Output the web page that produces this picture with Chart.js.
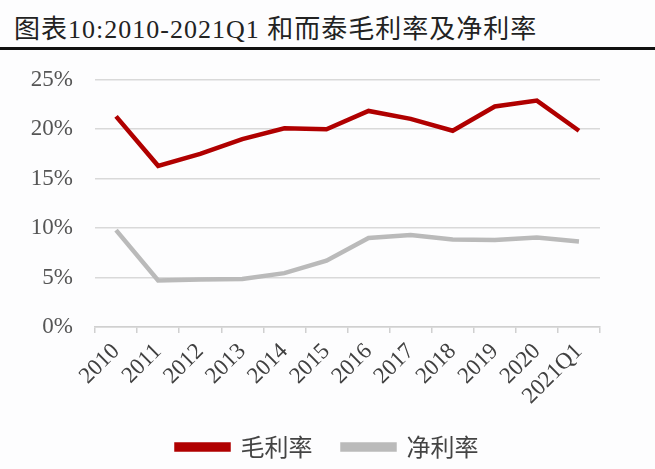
<!DOCTYPE html>
<html>
<head>
<meta charset="utf-8">
<script src="https://cdn.jsdelivr.net/npm/chart.js@4"></script>
<style>
html,body{margin:0;padding:0;background:#fdfdfe;width:655px;height:469px;overflow:hidden;}
#title{position:absolute;left:14px;top:8px;font-family:"Liberation Serif","Noto Sans CJK SC",serif;font-size:26px;color:#222;white-space:nowrap;letter-spacing:1px;}
#rule{position:absolute;left:0;top:47px;width:655px;height:3px;background:#111;}
#wrap{position:absolute;left:0;top:44px;width:655px;height:425px;}
</style>
</head>
<body>
<div id="title">图表10:2010-2021Q1 和而泰毛利率及净利率</div>
<div id="rule"></div>
<div id="wrap"><canvas id="c"></canvas></div>
<script>
const categories = ["2010","2011","2012","2013","2014","2015","2016","2017","2018","2019","2020","2021Q1"];
const grossMargin = [21.3,16.3,17.5,19.0,20.1,20.0,21.85,21.05,19.85,22.3,22.9,19.85];
const netMargin = [9.8,4.7,4.8,4.85,5.45,6.7,9.0,9.3,8.85,8.8,9.05,8.65];
const seriesNames = ["毛利率","净利率"];

new Chart(document.getElementById('c'), {
  type: 'line',
  data: {
    labels: categories,
    datasets: [
      {label: seriesNames[0], data: grossMargin, borderColor: '#b00000', backgroundColor: '#b00000', borderWidth: 4.5, pointRadius: 0, tension: 0},
      {label: seriesNames[1], data: netMargin, borderColor: '#bababa', backgroundColor: '#bababa', borderWidth: 4.5, pointRadius: 0, tension: 0}
    ]
  },
  options: {
    responsive: true,
    maintainAspectRatio: false,
    animation: false,
    layout: {padding: {top: 5, right: 0, left: 0, bottom: 0}},
    plugins: {
      legend: {
        position: 'bottom',
        labels: {
          font: {family: '"Noto Sans CJK SC", sans-serif', size: 24},
          color: '#444',
          boxWidth: 52,
          boxHeight: 5,
          padding: 30
        }
      },
      tooltip: {enabled: false}
    },
    scales: {
      x: {
        offset: true,
        grid: {display: true, drawOnChartArea: false, drawTicks: true, tickLength: 6, offset: true, color: '#d0d0d0', lineWidth: 1.5},
        border: {display: true, color: '#d0d0d0', width: 1.5},
        ticks: {
          maxRotation: 45, minRotation: 45, autoSkip: false,
          font: {family: '"Liberation Serif", serif', size: 23},
          color: '#404040',
          padding: 5
        },
        afterFit: (s) => { s.height = 78; }
      },
      y: {
        min: 0, max: 25,
        ticks: {
          stepSize: 5,
          callback: (v) => v + '%',
          font: {family: '"Liberation Serif", serif', size: 23},
          color: '#555',
          padding: 22
        },
        grid: {color: '#d9d9d9', lineWidth: 1.5, drawTicks: false},
        border: {display: false},
        afterFit: (s) => { s.width = 95; }
      },
      yRight: {
        position: 'right',
        display: true,
        grid: {display: false, drawTicks: false},
        border: {display: false},
        ticks: {display: false},
        afterFit: (s) => { s.width = 55; }
      }
    }
  }
});
</script>
</body>
</html>
